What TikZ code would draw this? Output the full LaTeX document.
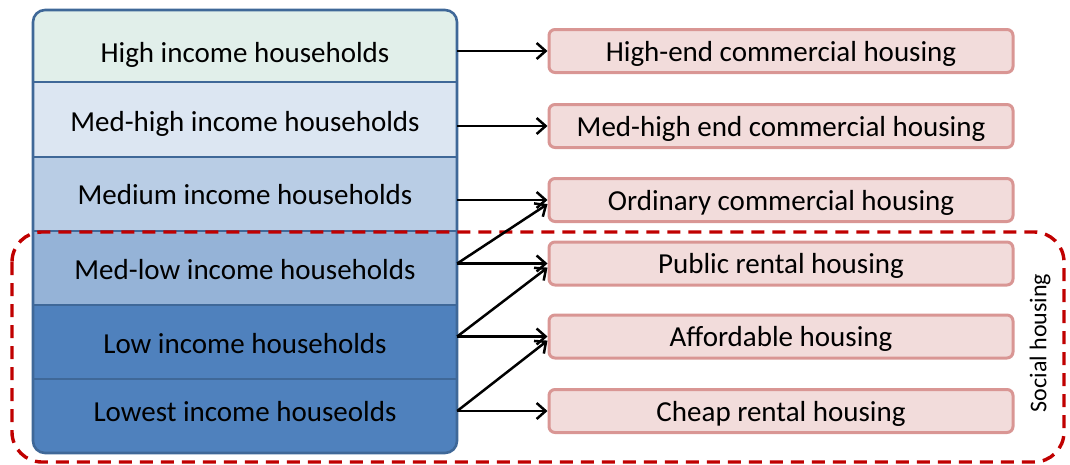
\documentclass[tikz,border=0pt]{standalone}
\usepackage{fontspec}
\setmainfont{Carlito}
\usetikzlibrary{arrows.meta}
\definecolor{rowA}{HTML}{E1EFEA}
\definecolor{rowB}{HTML}{DCE6F2}
\definecolor{rowC}{HTML}{B9CDE5}
\definecolor{rowD}{HTML}{95B3D7}
\definecolor{rowE}{HTML}{4F81BD}
\definecolor{frameblue}{HTML}{3F6898}
\definecolor{boxfill}{HTML}{F2DCDB}
\definecolor{boxline}{HTML}{D99694}
\definecolor{socialred}{HTML}{C00000}
\begin{document}
\begin{tikzpicture}[x=1pt,y=-1pt,
  rowtext/.style={minimum width=424pt, inner sep=0pt, text height=23pt, text depth=3pt, font=\fontsize{29}{34}\selectfont},
  housebox/.style={draw=boxline, fill=boxfill, line width=3pt, rounded corners=6pt, minimum width=464pt, minimum height=43pt, inner sep=0pt, text height=23pt, text depth=3pt, font=\fontsize{29}{34}\selectfont},
  frame/.style={draw=frameblue, line width=2.6pt},
  social/.style={draw=socialred, line width=3.4pt, dash pattern=on 13pt off 8pt, rounded corners=30pt},
  arr/.style={line width=2.5pt, -{Straight Barb[length=9pt,width=16pt,line width=2.5pt]}},
]
\useasboundingbox (0,0) rectangle (1070,464);
% left column fills
\begin{scope}
\clip[rounded corners=12pt] (33,10) rectangle (457,453);
\fill[rowA] (33,10) rectangle (457,82);
\fill[rowB] (33,82) rectangle (457,157);
\fill[rowC] (33,157) rectangle (457,231);
\fill[rowD] (33,231) rectangle (457,305);
\fill[rowE] (33,305) rectangle (457,453);
\end{scope}
\draw[frame] (33,82) -- (457,82);
\draw[frame] (33,157) -- (457,157);
\draw[frame] (33,231) -- (457,231);
\draw[frame] (33,305) -- (457,305);
\draw[frame] (33,379) -- (457,379);
\draw[frame, rounded corners=12pt] (33,10) rectangle (457,453);
% row texts
\node[rowtext] (r1) at (245,52) {High income households};
\node[rowtext] (r2) at (245,121) {Med-high income households};
\node[rowtext] (r3) at (245,194) {Medium income households};
\node[rowtext] (r4) at (245,269) {Med-low income households};
\node[rowtext] (r5) at (245,343) {Low income households};
\node[rowtext] (r6) at (245,411) {Lowest income houseolds};
% housing boxes
\node[housebox] (b1) at (781,51) {High-end commercial housing};
\node[housebox] (b2) at (781,126) {Med-high end commercial housing};
\node[housebox] (b3) at (781,200) {Ordinary commercial housing};
\node[housebox] (b4) at (781,263.5) {Public rental housing};
\node[housebox] (b5) at (781,336.5) {Affordable housing};
\node[housebox] (b6) at (781,411) {Cheap rental housing};
% social housing frame
\draw[social] (12,232) rectangle (1064,462);
\node[rotate=90, font=\fontsize{24}{28}\selectfont] (sh) at (1040,343) {Social housing};
% arrows
\draw[arr] (r1.east |- b1.west) -- (b1.west);
\draw[arr] (r2.east |- b2.west) -- (b2.west);
\draw[arr] (r3.east |- b3.west) -- (b3.west);
\draw[arr] (r4.east |- b4.west) -- (b4.west);
\draw[arr] (r5.east |- b5.west) -- (b5.west);
\draw[arr] (r6.east |- b6.west) -- (b6.west);
\draw[arr] (r4.east |- b4.west) -- (b3.181);
\draw[arr] (r5.east |- b5.west) -- (b4.181);
\draw[arr] (r6.east |- b6.west) -- (b5.181);
\end{tikzpicture}
\end{document}
